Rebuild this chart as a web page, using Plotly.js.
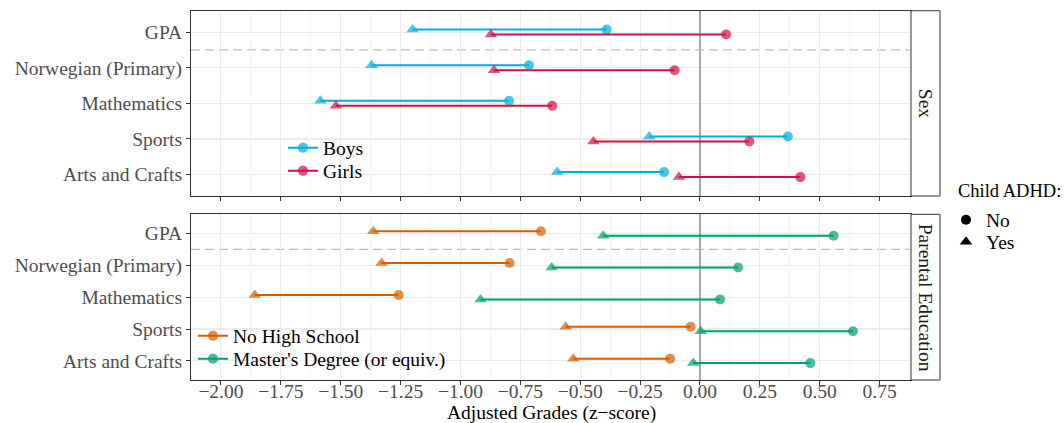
<!DOCTYPE html>
<html>
<head>
<meta charset="utf-8">
<script src="https://cdn.plot.ly/plotly-3.0.1.min.js"></script>
<style>html,body{margin:0;padding:0;background:#fff;}#chart{width:1064px;height:423px;}</style>
</head>
<body>
<div id="chart"></div>
<script>
// ---- data ----
const subjects = ["GPA", "Norwegian (Primary)", "Mathematics", "Sports", "Arts and Crafts"];
const xTickVals = [-2.0, -1.75, -1.5, -1.25, -1.0, -0.75, -0.5, -0.25, 0.0, 0.25, 0.5, 0.75];

// Sex facet: [Child ADHD = No, Child ADHD = Yes]
const boysNo   = [-0.390, -0.714, -0.797,  0.367, -0.150];
const boysYes  = [-1.200, -1.371, -1.585, -0.212, -0.596];
const girlsNo  = [ 0.109, -0.106, -0.617,  0.206,  0.419];
const girlsYes = [-0.873, -0.860, -1.520, -0.445, -0.088];

// Parental Education facet
const noHSNo      = [-0.664, -0.795, -1.258, -0.039, -0.125];
const noHSYes     = [-1.364, -1.329, -1.859, -0.561, -0.529];
const mastersNo   = [ 0.558,  0.159,  0.084,  0.639,  0.461];
const mastersYes  = [-0.404, -0.619, -0.916,  0.003, -0.028];

const groupNames = ["Boys", "Girls", "No High School", "Master's Degree (or equiv.)"];
const adhdLevels = ["No", "Yes"];
const facetLabels = ["Sex", "Parental Education"];
const xTitle = "Adjusted Grades (z\u2212score)";
const adhdTitle = "Child ADHD:";

// ---- styling ----
const FONT = "Liberation Serif, Times New Roman, serif";
const FS = 19.5;
const colors = {"Boys": "#00AEDB", "Girls": "#D11141", "No High School": "#D55E00", "Master's Degree (or equiv.)": "#009E73"};
const dodge = 0.07;
const W = 1064, H = 423;

function groupTrace(name, noVals, yesVals, off, xa, ya, legend) {
  const x = [], y = [], sym = [], sz = [];
  subjects.forEach((s, i) => {
    x.push(noVals[i], yesVals[i], null);
    y.push(i + off, i + off, null);
    sym.push("circle", "triangle-up", "circle");
    sz.push(10, 11, 10);
  });
  return {
    type: "scatter", mode: "lines+markers", name: name,
    x: x, y: y, xaxis: xa, yaxis: ya, legend: legend,
    connectgaps: false,
    line: {color: colors[name], width: 2},
    marker: {color: colors[name], symbol: sym, size: sz, line: {width: 0}},
    hoverinfo: "x+name"
  };
}

const traces = [
  groupTrace(groupNames[0], boysNo, boysYes, -dodge, "x", "y", "legend"),
  groupTrace(groupNames[1], girlsNo, girlsYes, dodge, "x", "y", "legend4"),
  groupTrace(groupNames[2], noHSNo, noHSYes, -dodge, "x2", "y2", "legend2"),
  groupTrace(groupNames[3], mastersNo, mastersYes, dodge, "x2", "y2", "legend5"),
  // Child ADHD shape legend (points lie outside the axis range, so only the legend shows them)
  {type: "scatter", mode: "markers", name: adhdLevels[0], x: [-10], y: [0], xaxis: "x", yaxis: "y",
   legend: "legend3", marker: {color: "#000", symbol: "circle", size: 10}, hoverinfo: "skip"},
  {type: "scatter", mode: "markers", name: adhdLevels[1], x: [-10], y: [0], xaxis: "x", yaxis: "y",
   legend: "legend6", marker: {color: "#000", symbol: "triangle-up", size: 11}, hoverinfo: "skip"}
];

const xDom = [191 / W, 911 / W];
const topDom = [1 - 196 / H, 1 - 10.7 / H];
const botDom = [1 - 380 / H, 1 - 214.3 / H];
const xRange = [-2.125, 0.881];
const yRange = [4.6, -0.6];

const xCommon = {
  range: xRange, tickvals: xTickVals, tickformat: ".2f",
  showgrid: true, gridcolor: "#EBEBEB", gridwidth: 1.1,
  minor: {dtick: 0.125, tick0: 0.125, showgrid: true, gridcolor: "#F1F1F1", gridwidth: 0.7, ticks: ""},
  zeroline: true, zerolinecolor: "#A8A8A8", zerolinewidth: 1.2,
  showline: true, mirror: true, linecolor: "#333333", linewidth: 1,
  ticks: "outside", ticklen: 4, tickcolor: "#333333", tickwidth: 1,
  tickfont: {family: FONT, size: FS, color: "#4D4D4D"},
  domain: xDom, automargin: false, fixedrange: true
};
const yCommon = {
  range: yRange, tickvals: [0, 1, 2, 3, 4], ticktext: subjects,
  showgrid: true, gridcolor: "#EBEBEB", gridwidth: 1.1, zeroline: false,
  showline: true, mirror: true, linecolor: "#333333", linewidth: 1,
  ticks: "outside", ticklen: 4, tickcolor: "#333333", tickwidth: 1,
  tickfont: {family: FONT, size: FS, color: "#4D4D4D"},
  automargin: false, fixedrange: true
};

function leg(xpx, ypx) {
  return {x: xpx / W, y: 1 - ypx / H, xanchor: "left", yanchor: "middle", bgcolor: "rgba(0,0,0,0)",
          font: {family: FONT, size: FS, color: "#000"}, tracegroupgap: 0, itemwidth: 30};
}

const layout = {
  width: W, height: H,
  margin: {l: 0, r: 0, t: 0, b: 0},
  paper_bgcolor: "#ffffff", plot_bgcolor: "#ffffff",
  font: {family: FONT, size: FS, color: "#000"},
  showlegend: true,
  xaxis: Object.assign({}, xCommon, {anchor: "y", showticklabels: false}),
  yaxis: Object.assign({}, yCommon, {anchor: "x", domain: topDom}),
  xaxis2: Object.assign({}, xCommon, {anchor: "y2", showticklabels: true, ticklabelstandoff: -10}),
  yaxis2: Object.assign({}, yCommon, {anchor: "x2", domain: botDom}),
  legend:  leg(283, 148),
  legend4: leg(283, 171),
  legend2: leg(193, 336),
  legend5: leg(193, 359),
  legend3: leg(946, 220),
  legend6: leg(946, 242),
  shapes: [
    {type: "line", xref: "x domain", yref: "y", x0: 0, x1: 1, y0: 0.5, y1: 0.5, layer: "below",
     line: {color: "#BDBDBD", width: 1.4, dash: "9px,5px"}},
    {type: "line", xref: "x2 domain", yref: "y2", x0: 0, x1: 1, y0: 0.5, y1: 0.5, layer: "below",
     line: {color: "#BDBDBD", width: 1.4, dash: "9px,5px"}},
    {type: "rect", xref: "paper", yref: "paper", x0: 911 / W, x1: 940 / W, y0: topDom[0], y1: topDom[1],
     fillcolor: "#ffffff", line: {color: "#333333", width: 1}},
    {type: "rect", xref: "paper", yref: "paper", x0: 911 / W, x1: 940 / W, y0: botDom[0], y1: botDom[1],
     fillcolor: "#ffffff", line: {color: "#333333", width: 1}}
  ],
  annotations: [
    {text: facetLabels[0], xref: "paper", yref: "paper", x: 925.5 / W, y: (topDom[0] + topDom[1]) / 2,
     xanchor: "center", yanchor: "middle",
     showarrow: false, textangle: 90, font: {family: FONT, size: FS, color: "#1A1A1A"}},
    {text: facetLabels[1], xref: "paper", yref: "paper", x: 925.5 / W, y: (botDom[0] + botDom[1]) / 2,
     xanchor: "center", yanchor: "middle",
     showarrow: false, textangle: 90, font: {family: FONT, size: FS, color: "#1A1A1A"}},
    {text: xTitle, xref: "paper", yref: "paper", x: 551 / W, y: 1 - 413 / H,
     xanchor: "center", yanchor: "middle", showarrow: false,
     font: {family: FONT, size: FS, color: "#000"}},
    {text: adhdTitle, xref: "paper", yref: "paper", x: 956 / W, y: 1 - 191 / H,
     xanchor: "left", yanchor: "middle", showarrow: false,
     font: {family: FONT, size: 18.5, color: "#000"}}
  ]
};

Plotly.newPlot("chart", traces, layout, {displayModeBar: false, staticPlot: true});
</script>
</body>
</html>
